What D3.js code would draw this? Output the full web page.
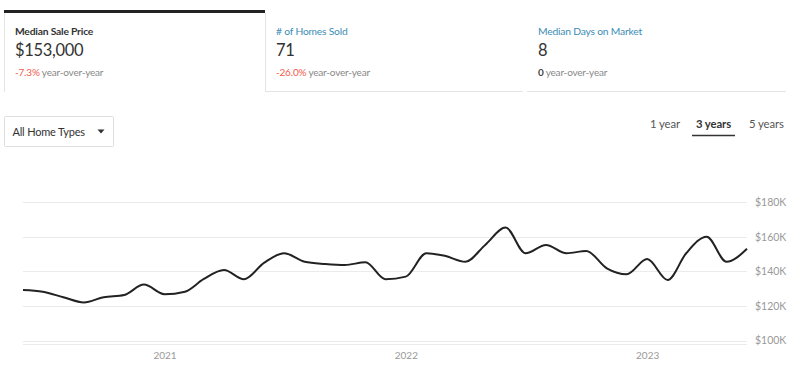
<!DOCTYPE html>
<html>
<head>
<meta charset="utf-8">
<script src="https://cdn.jsdelivr.net/npm/d3@7"></script>
<style>
  body { margin: 0; background: #fff; font-family: Lato, "Open Sans", sans-serif; }
  svg { display: block; }
</style>
</head>
<body>
<svg id="chart" width="800" height="374"></svg>
<script>
// monthly median sale price, Jun 2020 - Jun 2023 (thousands)
const months = ["2020-06","2020-07","2020-08","2020-09","2020-10","2020-11","2020-12",
    "2021-01","2021-02","2021-03","2021-04","2021-05","2021-06","2021-07","2021-08","2021-09","2021-10","2021-11","2021-12",
    "2022-01","2022-02","2022-03","2022-04","2022-05","2022-06","2022-07","2022-08","2022-09","2022-10","2022-11","2022-12",
    "2023-01","2023-02","2023-03","2023-04","2023-05","2023-06"];
const prices = [129.2, 128.2, 125, 122, 125, 126.3, 132.3,
    126.7, 128.2, 135.4, 140.7, 135.4, 145, 150.4, 145.5, 144.2, 143.6, 145.2, 135.4,
    136.9, 150.4, 148.9, 145.5, 155.2, 165.2, 150.4, 155.2, 150.4, 151.7, 141.7, 138.3,
    147.1, 135, 150.4, 160, 145.5, 153];
const yTicks = [100, 120, 140, 160, 180];
const yearTicks = ["2021", "2022", "2023"];

const tabs = [
    {title: "Median Sale Price", value: "$153,000", change: "-7.3%", active: true},
    {title: "# of Homes Sold", value: "71", change: "-26.0%", active: false},
    {title: "Median Days on Market", value: "8", change: "0", active: false}
];
const ranges = ["1 year", "3 years", "5 years"];

const svg = d3.select("#chart");
const parse = d3.timeParse("%Y-%m");
const data = months.map((m, i) => ({date: parse(m), value: prices[i]}));

// ---- stat tabs
const tabX = [4, 265, 527];
const tabW = [261, 260, 261];
tabs.forEach((t, i) => {
    const g = svg.append("g").attr("transform", "translate(" + tabX[i] + ",0)");
    if (t.active) {
        g.append("rect").attr("x", 0).attr("y", 10).attr("width", tabW[i]).attr("height", 3).attr("fill", "#222");
        g.append("line").attr("x1", 0.5).attr("x2", 0.5).attr("y1", 13).attr("y2", 92).attr("stroke", "#e4e4e4");
        g.append("line").attr("x1", tabW[i] + 0.5).attr("x2", tabW[i] + 0.5).attr("y1", 13).attr("y2", 92).attr("stroke", "#e4e4e4");
    } else {
        g.append("line").attr("x1", 0).attr("x2", tabW[i] - 2).attr("y1", 91.5).attr("y2", 91.5).attr("stroke", "#e4e4e4");
    }
    const tx = 11;
    g.append("text").attr("x", tx).attr("y", 35)
        .attr("font-size", 10.3).attr("letter-spacing", -0.2).attr("font-weight", t.active ? 700 : 400)
        .attr("fill", t.active ? "#333" : "#3b8db5").text(t.title);
    g.append("text").attr("x", tx).attr("y", 56)
        .attr("font-size", 16.5).attr("letter-spacing", -0.3).attr("fill", "#333").text(t.value);
    const ch = g.append("text").attr("x", tx).attr("y", 76).attr("font-size", 10).attr("letter-spacing", -0.2);
    ch.append("tspan").attr("fill", t.change === "0" ? "#444" : "#f2594b")
        .attr("font-weight", t.change === "0" ? 700 : 400).text(t.change);
    ch.append("tspan").attr("fill", "#888").text(" year-over-year");
});

// ---- dropdown
const dd = svg.append("g").attr("transform", "translate(4.5,116.5)");
dd.append("rect").attr("width", 109).attr("height", 30).attr("fill", "#fff")
    .attr("stroke", "#dedede").attr("rx", 1);
dd.append("text").attr("x", 8).attr("y", 19).attr("font-size", 11).attr("letter-spacing", -0.2)
    .attr("fill", "#333").text("All Home Types");
dd.append("path").attr("d", "M93,13 L100,13 L96.5,17 Z").attr("fill", "#333");

// ---- range selector
const rangeX = [650, 696, 749];
ranges.forEach((r, i) => {
    svg.append("text").attr("x", rangeX[i]).attr("y", 128)
        .attr("font-size", 11.3).attr("letter-spacing", -0.1).attr("font-weight", i === 1 ? 700 : 400)
        .attr("fill", i === 1 ? "#333" : "#555").text(r);
});
svg.append("line").attr("x1", 692).attr("x2", 735).attr("y1", 135.5).attr("y2", 135.5)
    .attr("stroke", "#333").attr("stroke-width", 1.5);

// ---- chart
const x = d3.scaleTime().domain([data[0].date, data[data.length - 1].date]).range([23, 747]);
const y = d3.scaleLinear().domain([100, 180]).range([340.5, 202]);

const grid = svg.append("g");
grid.selectAll("line").data(yTicks).enter().append("line")
    .attr("x1", 23).attr("x2", 747)
    .attr("y1", d => Math.round(y(d)) + 0.5).attr("y2", d => Math.round(y(d)) + 0.5)
    .attr("stroke", "#ebebeb").attr("stroke-width", 1.2);
svg.append("line").attr("x1", 23).attr("x2", 747).attr("y1", 344.5).attr("y2", 344.5)
    .attr("stroke", "#ebebeb").attr("stroke-width", 1.2);

const yAxis = d3.axisRight(y).tickValues(yTicks).tickSize(0).tickPadding(0)
    .tickFormat(d => "$" + d + "K");
svg.append("g").attr("transform", "translate(755,0)").call(yAxis)
    .call(g => g.select(".domain").remove())
    .call(g => g.selectAll("text").attr("fill", "#999").attr("font-size", 10.5)
        .attr("font-family", "Lato, sans-serif"));

const xAxis = d3.axisBottom(x).tickValues(yearTicks.map(d => new Date(+d, 0, 1)))
    .tickSize(0).tickPadding(0).tickFormat(d3.timeFormat("%Y"));
svg.append("g").attr("transform", "translate(0,352)").call(xAxis)
    .call(g => g.select(".domain").remove())
    .call(g => g.selectAll("text").attr("fill", "#999").attr("font-size", 10)
        .attr("font-family", "Lato, sans-serif"));

const line = d3.line().x(d => x(d.date)).y(d => y(d.value)).curve(d3.curveMonotoneX);
svg.append("path").datum(data).attr("d", line)
    .attr("fill", "none").attr("stroke", "#222").attr("stroke-width", 2);
</script>
</body>
</html>
